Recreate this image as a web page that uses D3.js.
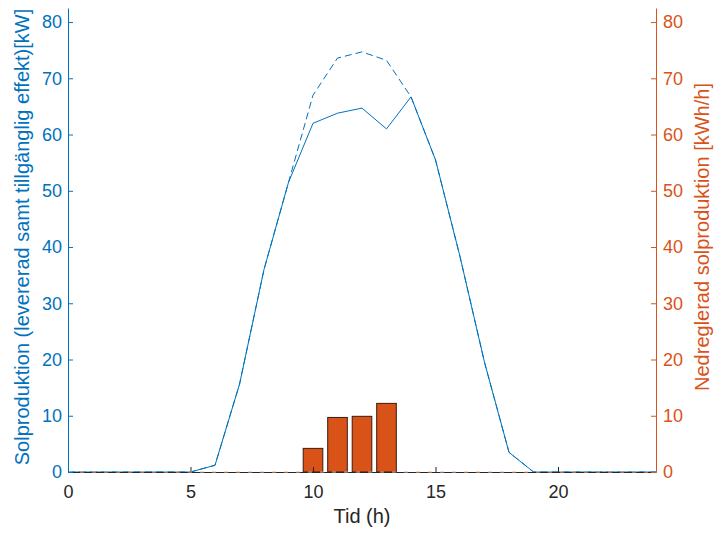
<!DOCTYPE html>
<html>
<head>
<meta charset="utf-8">
<script src="https://cdn.jsdelivr.net/npm/d3@7"></script>
<style>
  body { margin: 0; background: #fff; }
  text { font-family: "Liberation Sans", Arial, sans-serif; }
</style>
</head>
<body>
<div id="chart"></div>
<script>
// hours 0..24
var hours = d3.range(0, 25);
// delivered solar power (kW)
var levererad = [0, 0, 0, 0, 0, 0, 1.2, 15.6, 36, 51.5, 62, 63.8, 64.7, 61, 66.7, 55.5, 38.3, 19.5, 3.5, 0, 0, 0, 0, 0, 0];
// available solar power (kW)
var tillganglig = [0, 0, 0, 0, 0, 0, 1.2, 15.6, 36, 51.5, 67, 73.6, 74.7, 73.2, 66.7, 55.5, 38.3, 19.5, 3.5, 0, 0, 0, 0, 0, 0];
// curtailed production (kWh/h)
var barHours = [10, 11, 12, 13];
var nedreglerad = [4.2, 9.7, 9.9, 12.2];
var xTicks = [0, 5, 10, 15, 20];
var yTicks = [0, 10, 20, 30, 40, 50, 60, 70, 80];

var W = 716, H = 533;
var margin = {top: 8, right: 60, bottom: 61, left: 68};
var width = W - margin.left - margin.right,
    height = H - margin.top - margin.bottom;

var blue = "#0072BD", orange = "#D95319", dark = "#262626";

var x = d3.scaleLinear().domain([0, 24]).range([0, width]);
var y = d3.scaleLinear().domain([0, 82.5]).range([height, 0]);

var svg = d3.select("#chart").append("svg")
    .attr("width", W).attr("height", H)
  .append("g")
    .attr("transform", "translate(" + margin.left + "," + margin.top + ")");

// Bars
var bw = x(0.8) - x(0);
svg.selectAll(".bar")
    .data(barHours)
  .enter().append("rect")
    .attr("x", function(d) { return x(d) - bw / 2; })
    .attr("width", bw)
    .attr("y", function(d, i) { return y(nedreglerad[i]); })
    .attr("height", function(d, i) { return y(0) - y(nedreglerad[i]); })
    .style("fill", orange)
    .style("stroke", "#3a1a10")
    .style("stroke-width", 1);

// Lines
var line = function(vals) {
  return d3.line()
    .x(function(d) { return x(d); })
    .y(function(d, i) { return y(vals[i]); })(hours);
};

svg.append("path")
    .attr("d", line(tillganglig))
    .style("fill", "none").style("stroke", blue)
    .style("stroke-width", 1).style("stroke-dasharray", "7,4");

svg.append("path")
    .attr("d", line(levererad))
    .style("fill", "none").style("stroke", blue)
    .style("stroke-width", 1);

// Bottom axis
var xAxis = svg.append("g")
    .attr("transform", "translate(0," + height + ")")
    .call(d3.axisBottom(x).tickValues(xTicks).tickSizeInner(-5).tickSizeOuter(0).tickPadding(13));
xAxis.select(".domain").attr("stroke", dark);
xAxis.selectAll("line").attr("stroke", dark);
xAxis.selectAll("text").attr("fill", dark).style("font-size", "18px");

// orange dashed zero line
svg.append("line")
    .attr("x1", x(0)).attr("x2", x(24))
    .attr("y1", y(0)).attr("y2", y(0))
    .style("stroke", "#f0b090").style("stroke-width", 1.2)
    .style("stroke-dasharray", "4,8");

// Left axis
var yLeft = svg.append("g")
    .call(d3.axisLeft(y).tickValues(yTicks).tickSizeInner(-5).tickSizeOuter(0).tickPadding(6));
yLeft.select(".domain").attr("stroke", blue);
yLeft.selectAll("line").attr("stroke", blue);
yLeft.selectAll("text").attr("fill", blue).style("font-size", "18px");

// Right axis
var yRight = svg.append("g")
    .attr("transform", "translate(" + width + ",0)")
    .call(d3.axisRight(y).tickValues(yTicks).tickSizeInner(-5).tickSizeOuter(0).tickPadding(7));
yRight.select(".domain").attr("stroke", orange);
yRight.selectAll("line").attr("stroke", orange);
yRight.selectAll("text").attr("fill", orange).style("font-size", "18px");

// Axis labels
svg.append("text")
    .attr("x", x(12)).attr("y", height + 51)
    .attr("text-anchor", "middle")
    .style("font-size", "20px").style("fill", dark)
    .text("Tid (h)");

svg.append("text")
    .attr("transform", "translate(" + (-39) + "," + (height / 2 - 3) + ") rotate(-90)")
    .attr("text-anchor", "middle")
    .style("font-size", "20px").style("fill", blue)
    .text("Solproduktion (levererad samt tillgänglig effekt)[kW]");

svg.append("text")
    .attr("transform", "translate(" + (width + 53) + "," + (height / 2 - 3) + ") rotate(-90)")
    .attr("text-anchor", "middle")
    .style("font-size", "20px").style("fill", orange)
    .text("Nedreglerad solproduktion [kWh/h]");
</script>
</body>
</html>
